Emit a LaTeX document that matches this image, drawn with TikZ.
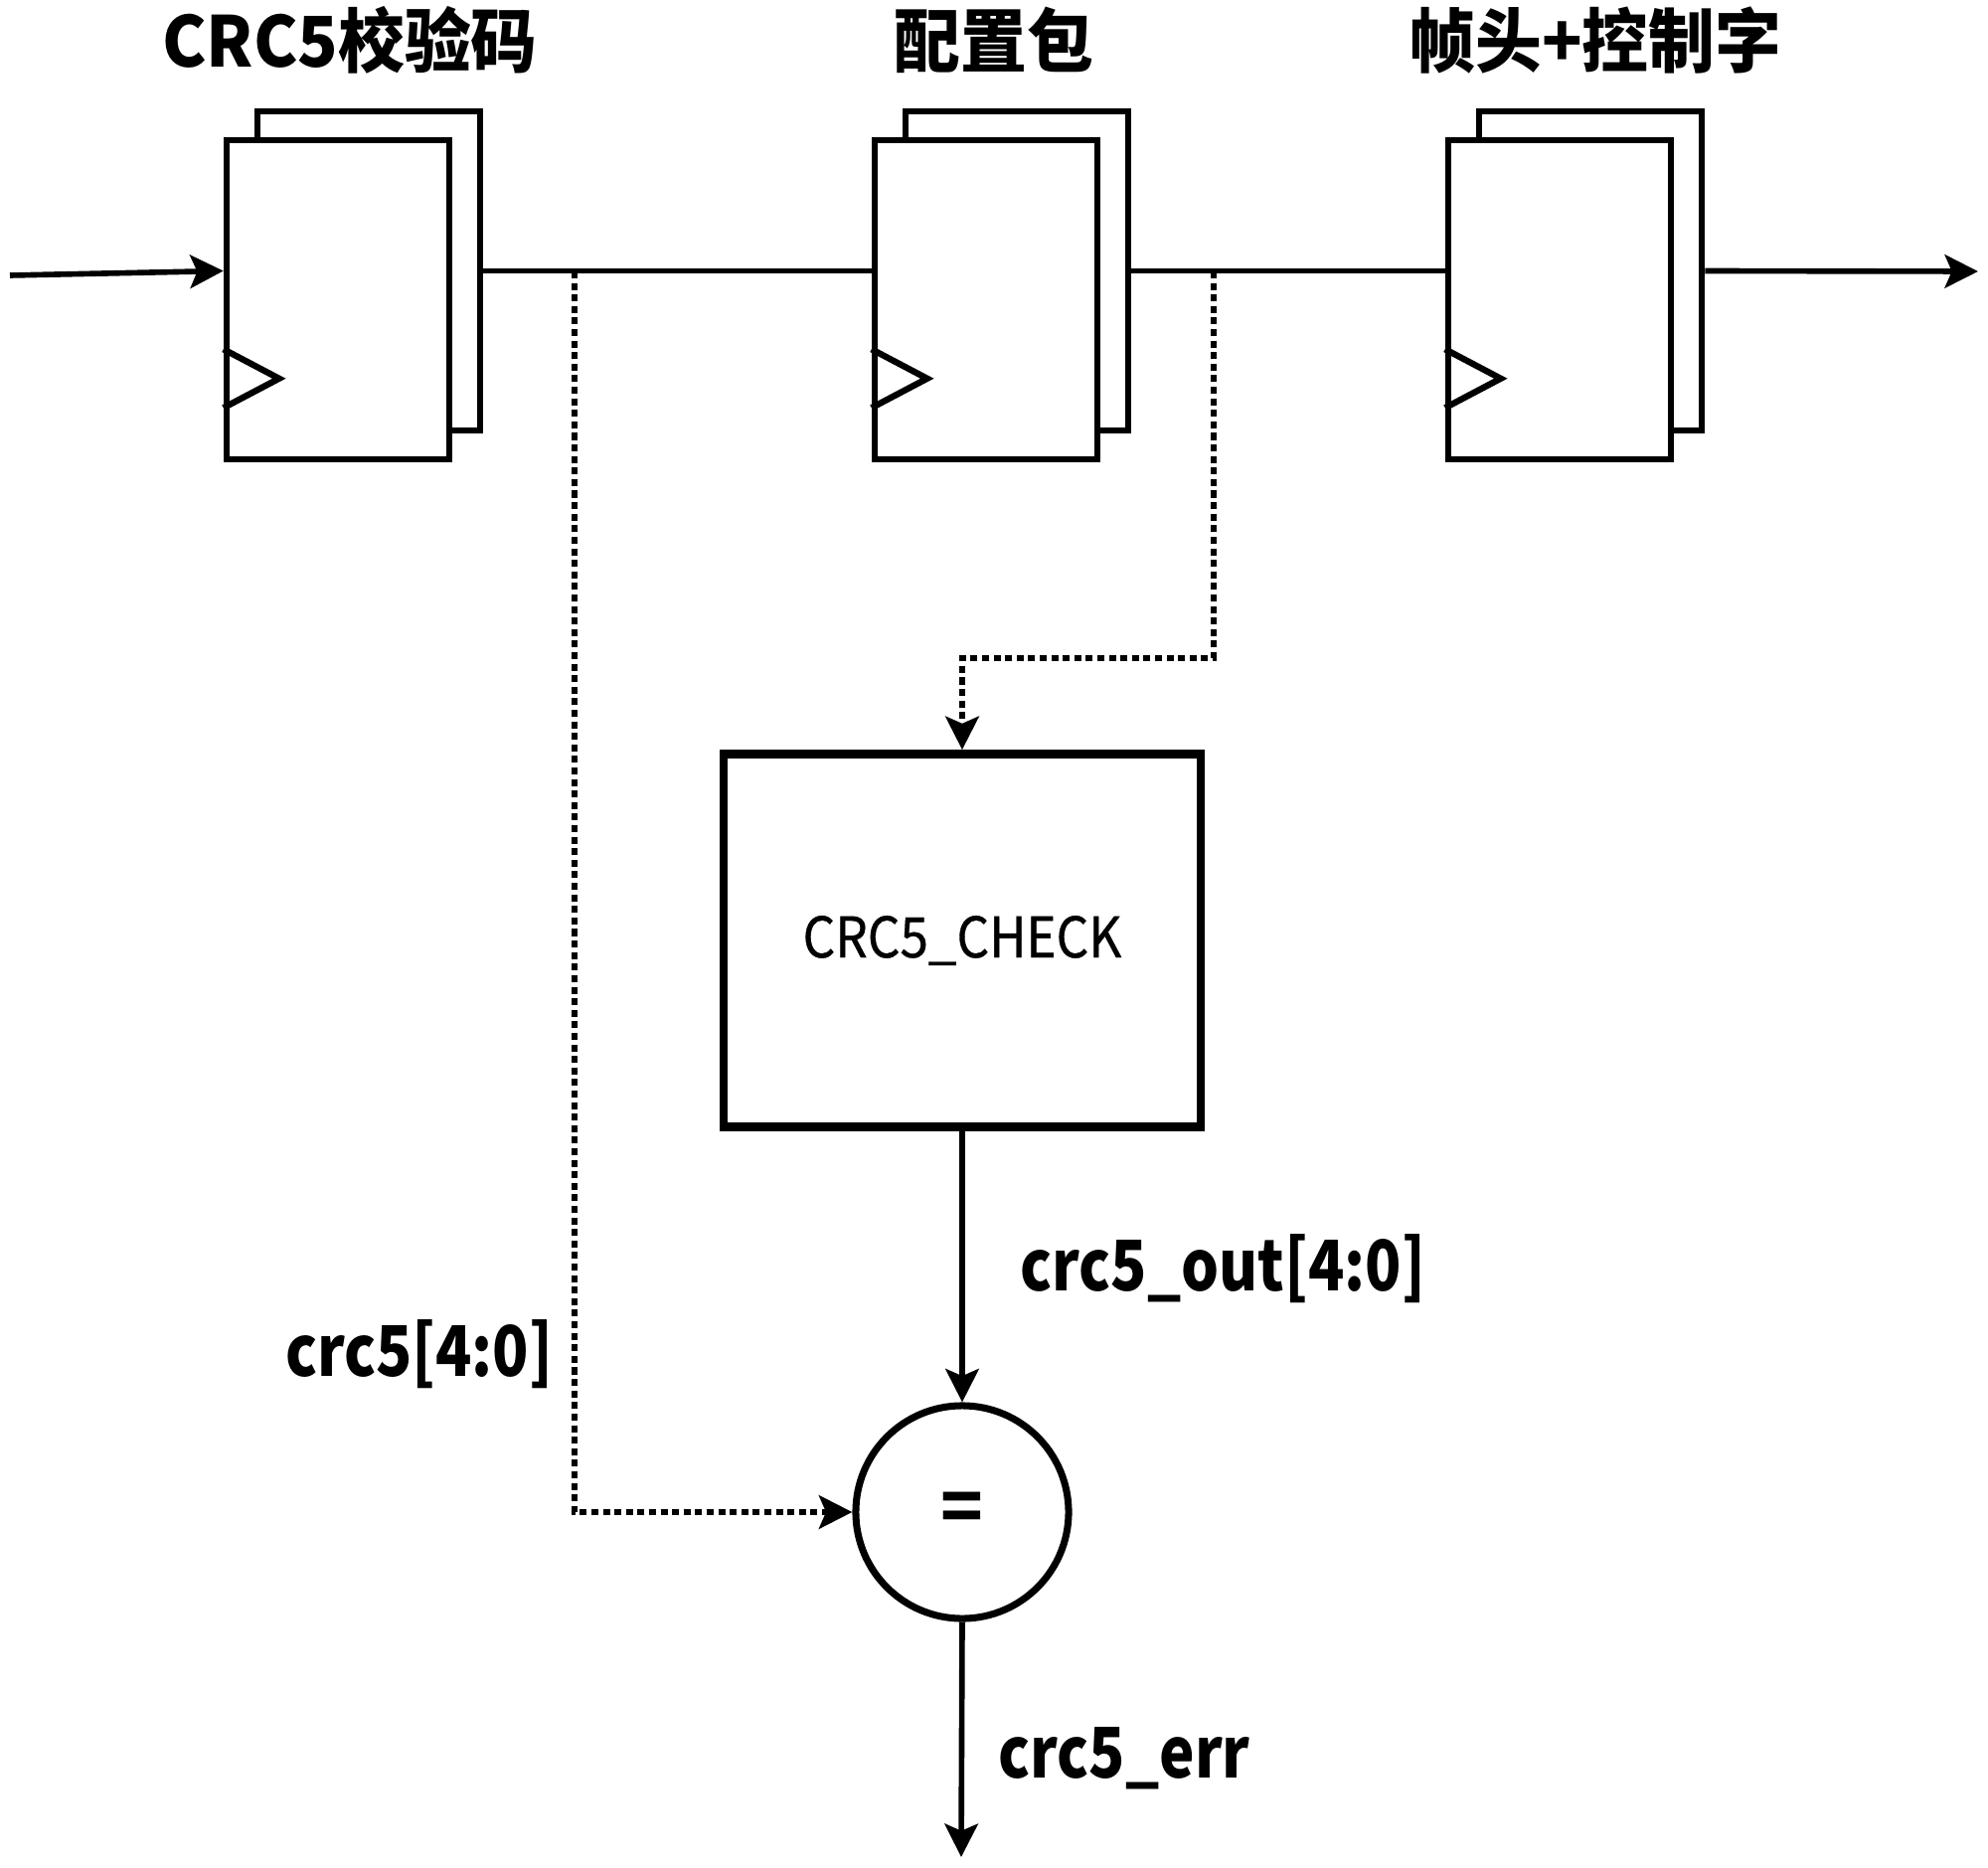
\documentclass[tikz,border=0pt]{standalone}
\usepackage{fontspec}
\setmainfont{Noto Sans CJK SC}
\newfontfamily\sigfont{Noto Sans CJK SC}[FakeStretch=0.85]
\newfontfamily\titlefont{Noto Sans CJK SC}[FakeStretch=0.95]
\newfontfamily\boxfont{Noto Sans CJK SC}[FakeStretch=0.91,FakeBold=0.6]
\usetikzlibrary{arrows.meta,calc}

\begin{document}
\begin{tikzpicture}[x=0.01cm,y=-0.01cm,
  reg/.style={draw,fill=white,line width=1.8pt,minimum width=2.24cm,minimum height=3.21cm,inner sep=0pt},
  title/.style={font=\titlefont\bfseries\fontsize{20}{24}\selectfont,anchor=base},
  sig/.style={font=\sigfont\bfseries\fontsize{20}{24}\selectfont,inner sep=0pt},
  wire/.style={line width=1.6pt},
  tap/.style={line width=1.8pt,dash pattern=on 2pt off 1.3pt},
  arr/.style={-{Stealth[length=9.5pt,width=9.5pt,inset=2pt]}}]
\useasboundingbox (0,0) rectangle (2000,1879);
% registers, back copy first
\foreach \n/\cx in {ffa/340,ffb/992,ffc/1569}{
  \node[reg] (\n-bk) at (\cx+31,272.5) {};
  \node[reg] (\n) at (\cx,301.5) {};
  % clock input
  \draw[line width=1.8pt] ($(\n.south west)+(0,-55)$) --++ (56,-29.5) --++ (-56,-29.5);
}
\node[title] (ta) at (352,68) {CRC5校验码};
\node[title] (tb) at (1000,68) {配置包};
\node[title] (tc) at (1605,68) {帧头+控制字};

\node[draw,line width=2.4pt,minimum width=4.8cm,minimum height=3.75cm,
  font=\boxfont\fontsize{16}{19}\selectfont] (chk) at (968,946) {CRC5\_CHECK};
\node[circle,draw,line width=2pt,minimum size=2.14cm,inner sep=0pt,
  font=\bfseries\fontsize{20}{24}\selectfont] (eq) at (968,1521) {=};

\coordinate (in) at (10,277);
\coordinate (out) at (1990,273);
\coordinate (tapa) at (578,273);
\coordinate (tapb) at (1221,273);
\coordinate (bend) at (1221,662);
\coordinate (err) at (967,1868);

% data path
\draw[wire,arr] (in) -- (ffa.west |- ffa-bk.east);
\draw[wire] (ffa-bk.east) -- (ffb.west |- ffb-bk.east);
\draw[wire] (ffb-bk.east) -- (ffc.west |- ffc-bk.east);
\draw[wire,arr] (ffc-bk.east) -- (out);

% check path
\draw[tap,arr] (tapb) -- (bend) -| (chk.north);
\draw[tap,arr] (tapa) |- (eq.west);
\draw[wire,arr] (chk.south) -- (eq.north);
\draw[wire,arr] (eq.south) -- (err);

\node[sig,anchor=base west] (lout) at (1026,1298) {crc5\_out[4:0]};
\node[sig,anchor=base east] (lcrc) at (557,1384) {crc5[4:0]};
\node[sig,anchor=base west] (lerr) at (1004,1788) {crc5\_err};
\end{tikzpicture}
\end{document}
